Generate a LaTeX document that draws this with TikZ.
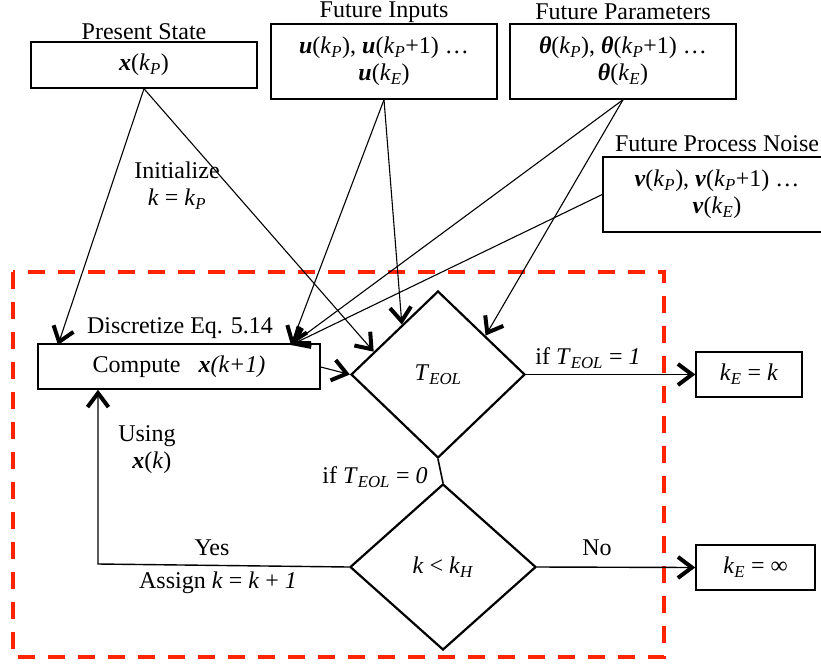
\documentclass[tikz,border=0pt]{standalone}
\usepackage{fontspec}
\setmainfont{Liberation Serif}
\usetikzlibrary{arrows.meta,shapes.geometric,calc}

% variable typesetting helpers
\newcommand\bv[1]{\textbf{\textit{#1}}}
\newcommand\iv[1]{\textit{#1}}
\newcommand\kk[1]{\textit{k}\textsubscript{\textit{#1}}}
\definecolor{loopred}{RGB}{255,36,0}

\begin{document}
\begin{tikzpicture}[x=1pt,y=-1pt,
  every node/.style={font=\fontsize{24}{27}\selectfont, inner sep=0pt},
  box/.style={draw, line width=1.5pt, align=center},
  decision/.style={draw, diamond, line width=2.2pt},
  lbl/.style={align=center},
  tip/.style={-{Straight Barb[length=14pt,width=21pt,line width=4pt 0,sharp]}},
  feed/.style={tip, line width=1.1pt},
  flow/.style={tip, line width=1.4pt}
]
\useasboundingbox (0,0) rectangle (821,664);

% simulation loop frame
\draw[loopred, line width=4pt, dash pattern=on 17pt off 13pt] (13,272) rectangle (664,657);

% inputs to the loop
\node[box, minimum width=226pt, minimum height=46pt] (ps) at (144,65) {\bv{x}(\kk{P})};
\node[lbl] at (144,32) {Present State};

\node[box, minimum width=226pt, minimum height=75pt] (fi) at (384,61.5)
  {\bv{u}(\kk{P}), \bv{u}(\kk{P}+1) …\\\bv{u}(\kk{E})};
\node[lbl] at (384,12) {Future Inputs};

\node[box, minimum width=226pt, minimum height=75pt] (fp) at (623,61.5)
  {\bv{θ}(\kk{P}), \bv{θ}(\kk{P}+1) …\\\bv{θ}(\kk{E})};
\node[lbl] at (623,12) {Future Parameters};

\node[box, minimum width=228pt, minimum height=75pt] (fn) at (717,194.5)
  {\bv{v}(\kk{P}), \bv{v}(\kk{P}+1) …\\\bv{v}(\kk{E})};
\node[lbl] at (717,144) {Future Process Noise};

% loop body
\node[box, minimum width=282pt, minimum height=45pt] (comp) at (179,366.5)
  {Compute\hspace{0.75em}\bv{x}\iv{(k+1)}};
\node[lbl] at (180,328) {Discretize Eq. 5.14};

\node[decision, minimum width=174pt, minimum height=167pt] (teol) at (438,374.5)
  {\iv{T}\textsubscript{\iv{EOL}}};
\node[decision, minimum width=186pt, minimum height=166pt] (kh) at (443,567)
  {\iv{k} < \kk{H}};

% outcomes
\node[box, minimum width=106pt, minimum height=45pt] (ke1) at (749,374.5) {\kk{E} = \iv{k}};
\node[box, minimum width=119pt, minimum height=45pt] (ke2) at (755.5,567.5) {\kk{E} = ∞};

% arrow end points on the borders
\coordinate (cps) at (58,345);
\coordinate (cin) at (291,345);
\coordinate (tps) at ($(teol.west)!0.27!(teol.north)$);
\coordinate (tfi) at ($(teol.west)!0.59!(teol.north)$);
\coordinate (tfp) at ($(teol.north)!0.54!(teol.east)$);
\coordinate (corner) at (98,564);

% feeds from the inputs
\draw[feed] (ps.south) -- (cps);
\draw[feed] (ps.south) -- (tps);
\draw[feed] (fi.south) -- (cin);
\draw[feed] (fi.south) -- (tfi);
\draw[feed] (fp.south) -- (cin);
\draw[feed] (fp.south) -- (tfp);
\draw[feed] (fn.west) -- (cin);

\node[lbl] at (177,186) {Initialize\\\iv{k} = \kk{P}};

% loop flow
\draw[feed] (comp.east) ++(0,0.5) -- (teol.west);
\draw[line width=1.6pt] (teol.south) -- (kh.north);
\node[lbl] at (375,477) {if \iv{T}\textsubscript{\iv{EOL}} = \iv{0}};

\draw[flow] (teol.east) -- (ke1.west);
\node[lbl] at (588,358) {if \iv{T}\textsubscript{\iv{EOL}} = \iv{1}};

\draw[flow] (kh.east) -- (ke2.west);
\node[lbl] at (597,548) {No};

\draw[flow] (kh.west) -- (corner) -- (corner |- comp.south);
\node[lbl] at (212,548) {Yes};
\node[lbl] at (218,583) {Assign \iv{k} = \iv{k} + \iv{1}};
\node[lbl] at (147,450) {Using\\\hspace*{0.4em}\bv{x}(\iv{k})};
\end{tikzpicture}
\end{document}
